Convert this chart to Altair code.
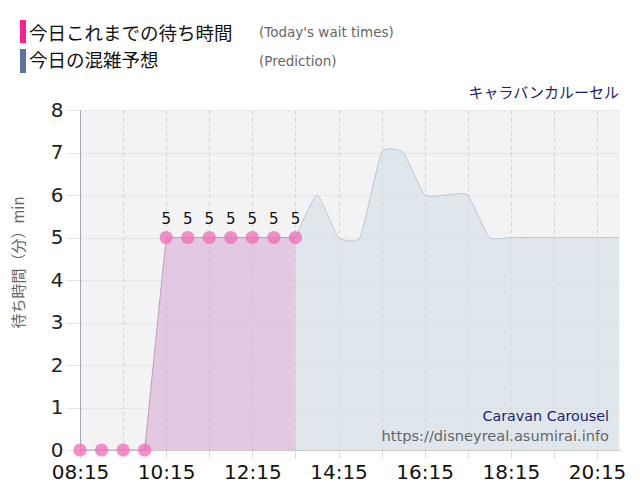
import altair as alt
import pandas as pd

# ---- data ----
actual_times = ["08:15", "08:45", "09:15", "09:45", "10:15", "10:45", "11:15", "11:45", "12:15", "12:45", "13:15"]
actual_values = [0, 0, 0, 0, 5, 5, 5, 5, 5, 5, 5]

pred_times = ["13:15", "13:45", "14:15", "14:45", "15:15", "15:45", "16:15", "16:45", "17:15",
              "17:45", "18:15", "18:45", "19:15", "19:45", "20:15", "20:45"]
pred_values = [5, 6, 5, 5, 7, 7, 6, 6, 6, 5, 5, 5, 5, 5, 5, 5]

y_ticks = [0, 1, 2, 3, 4, 5, 6, 7, 8]
x_start, x_end = "08:15", "20:47"

title_text = "キャラバンカルーセル"
legend_actual = "今日これまでの待ち時間"
legend_actual_en = "(Today's wait times)"
legend_pred = "今日の混雑予想"
legend_pred_en = "(Prediction)"
y_title = "待ち時間（分）min"
watermark_name = "Caravan Carousel"
watermark_url = "https://disneyreal.asumirai.info"


def to_min(t):
    h, m = t.split(":")
    return int(h) * 60 + int(m)


actual = pd.DataFrame({"m": [to_min(t) for t in actual_times], "v": actual_values})
pred = pd.DataFrame({"m": [to_min(t) for t in pred_times], "v": pred_values})
labels = actual[actual["v"] > 0]
one = pd.DataFrame({"a": [0]})

x0, x1 = to_min(x_start), to_min(x_end)

label_expr = ("datum.value % 120 == 15 ? "
              "(floor(datum.value/60) < 10 ? '0' : '') + floor(datum.value/60) + ':' + "
              "(datum.value % 60 < 10 ? '0' : '') + (datum.value % 60) : ''")

x_enc = alt.X("m:Q", scale=alt.Scale(domain=[x0, x1], nice=False, zero=False),
              axis=alt.Axis(values=list(range(x0, x1, 30)), labelExpr=label_expr,
                            title=None, grid=True, gridDash=[4, 3], gridColor="#d2d2d2",
                            tickColor="#dcdcdc", tickSize=8, labelPadding=4,
                            labelFont="DejaVu Sans", labelFontSize=20, labelColor="#111",
                            labelOverlap=False, labelFlush=False,
                            domainColor="#c8c8c8"))
y_enc = alt.Y("v:Q", scale=alt.Scale(domain=[0, 8], nice=False),
              axis=alt.Axis(values=y_ticks, title=y_title, titleFont="Noto Sans CJK JP",
                            titleFontSize=15, titleFontWeight="normal", titleColor="#666",
                            titleX=-62, titleY=152, titleAngle=270, titleBaseline="middle",
                            titleAlign="center",
                            grid=True, gridDash=[2, 2], gridColor="#d8d8d8",
                            tickColor="#e4e4e4", tickSize=14, labelPadding=3,
                            labelFont="DejaVu Sans", labelFontSize=20, labelColor="#222",
                            domainColor="#a8a8b8"))

pred_area = alt.Chart(pred).mark_area(
    interpolate="cardinal", tension=0.55, color="#d6e1e9", line={"color": "#b9c9d5", "strokeWidth": 1}
).encode(x=x_enc, y=y_enc)

act_area = alt.Chart(actual).mark_area(
    interpolate="linear", color="#dbb5d9", line={"color": "#c89ac4", "strokeWidth": 1}
).encode(x="m:Q", y="v:Q")

act_pts = alt.Chart(actual).mark_circle(size=175, color="#f06cb6", opacity=0.75).encode(x="m:Q", y="v:Q")

act_lbl = alt.Chart(labels).mark_text(dy=-19, fontSize=15, font="DejaVu Sans", color="#111").encode(
    x="m:Q", y="v:Q", text="v:Q")


def txt(s, px, py, size, color, font="Noto Sans CJK JP", align="left"):
    return alt.Chart(one).mark_text(text=s, fontSize=size, color=color, font=font, align=align,
                                    baseline="alphabetic").encode(
        x=alt.value(px - 80), y=alt.value(py - 110))


def bar(px0, px1, py0, py1, color):
    return alt.Chart(one).mark_rect(color=color).encode(
        x=alt.value(px0 - 80), x2=alt.value(px1 - 80), y=alt.value(py0 - 110), y2=alt.value(py1 - 110))


annot = [
    bar(20, 26, 20, 43, "#ff1f8f"),
    bar(20, 26, 49, 73, "#5f73a3"),
    txt(legend_actual, 29, 40, 18.5, "#111"),
    txt(legend_actual_en, 259, 37, 13.5, "#666", font="DejaVu Sans"),
    txt(legend_pred, 29, 67, 18.5, "#111"),
    txt(legend_pred_en, 259, 66, 13.5, "#666", font="DejaVu Sans"),
    txt(title_text, 619, 98, 15, "#1e1e6e", align="right"),
    txt(watermark_name, 609, 421, 14.3, "#1e1e6e", font="DejaVu Sans", align="right"),
    txt(watermark_url, 609, 441, 14.6, "#666", font="DejaVu Sans", align="right"),
]

chart = alt.layer(pred_area, act_area, act_pts, act_lbl, *annot).properties(
    width=540, height=340,
    autosize=alt.AutoSizeParams(type="none"),
    padding={"left": 72, "top": 102, "right": 12, "bottom": 40},
    background="white",
).configure_view(stroke=None, fill="#f3f3f3")

chart.save("out.html", embed_options={"renderer": "svg", "actions": False})
